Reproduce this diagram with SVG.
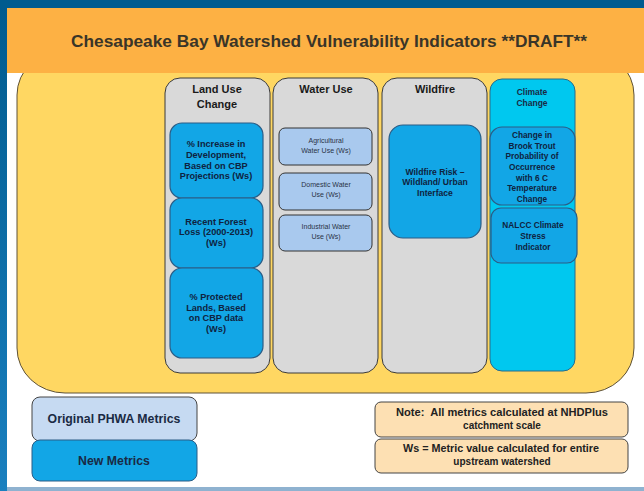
<svg xmlns="http://www.w3.org/2000/svg" width="644" height="491" viewBox="0 0 644 491">
<defs>
<linearGradient id="side" x1="0" y1="0" x2="0" y2="1">
<stop offset="0" stop-color="#005a8e"/>
<stop offset="1" stop-color="#1a80bf"/>
</linearGradient>
<style>
.col{fill:#d9d9d9;stroke:#3a3a3a;stroke-width:1}
.clim{fill:#00c8ef;stroke:#2a6a8a;stroke-width:1}
.new{fill:#12a6e6;stroke:#2b5d86;stroke-width:1.2}
.orig{fill:#a9c9ee;stroke:#333;stroke-width:1}
.note{fill:#fde0b3;stroke:#444;stroke-width:1}
text{font-family:"Liberation Sans",Arial,sans-serif;text-anchor:middle}
.hd{font-size:11px;font-weight:bold;fill:#1a1a1a}
.hs{font-size:8.5px;font-weight:bold;fill:#1a2a44}
.bt{font-size:9.2px;font-weight:bold;fill:#0f2340}
.bw{font-size:8.6px;font-weight:bold;fill:#0f2340}
.bc{font-size:8.3px;font-weight:bold;fill:#0f2340}
.wt{font-size:7px;fill:#2a3346}
.lg{font-size:12.3px;font-weight:bold;fill:#1a2a44}
.nt{font-size:10px;font-weight:bold;fill:#222}
</style>
</defs>
<rect x="0" y="0" width="644" height="491" fill="#ffffff"/>
<rect x="0" y="0" width="7" height="491" fill="url(#side)"/>
<rect x="0" y="0" width="644" height="8" fill="#005b8f"/>
<rect x="7" y="487" width="637" height="4" fill="#8fb2d0"/>
<g id="panel">
<rect x="17" y="50" width="617" height="343" rx="48" ry="45" fill="#ffd762" stroke="#5e5238" stroke-width="1"/>
</g>
<g id="header">
<rect x="7" y="8" width="637" height="65" fill="#fdb144"/>
<text x="329" y="47" font-size="17" font-weight="bold" fill="#3a3528" textLength="516" lengthAdjust="spacingAndGlyphs">Chesapeake Bay Watershed Vulnerability Indicators **DRAFT**</text>
</g>
<g id="land-use">
<rect class="col" x="165" y="78" width="105" height="295" rx="15"/>
<text class="hd" x="217" y="93">Land Use</text>
<text class="hd" x="217" y="108">Change</text>
</g>
<g id="water-use">
<rect class="col" x="273" y="78" width="105" height="295" rx="15"/>
<text class="hd" x="326" y="93">Water Use</text>
</g>
<g id="wildfire">
<rect class="col" x="382" y="78" width="105" height="295" rx="15"/>
<text class="hd" x="435" y="93">Wildfire</text>
</g>
<g id="climate">
<rect class="clim" x="490" y="79" width="85" height="292" rx="12"/>
<text class="hs" x="532" y="95">Climate</text>
<text class="hs" x="532" y="106">Change</text>
</g>
<g id="lu-dev">
<rect class="new" x="170" y="123" width="93" height="75" rx="12"/>
<text class="bt" x="216" y="147">% Increase in</text>
<text class="bt" x="216" y="158">Development,</text>
<text class="bt" x="216" y="169">Based on CBP</text>
<text class="bt" x="216" y="179">Projections (Ws)</text>
</g>
<g id="lu-forest">
<rect class="new" x="170" y="198" width="93" height="70" rx="12"/>
<text class="bt" x="216" y="225">Recent Forest</text>
<text class="bt" x="216" y="235">Loss (2000-2013)</text>
<text class="bt" x="216" y="246">(Ws)</text>
</g>
<g id="lu-protected">
<rect class="new" x="170" y="268" width="93" height="90" rx="12"/>
<text class="bt" x="216" y="300">% Protected</text>
<text class="bt" x="216" y="311">Lands, Based</text>
<text class="bt" x="216" y="321">on CBP data</text>
<text class="bt" x="216" y="332">(Ws)</text>
</g>
<g id="wu-ag">
<rect class="orig" x="279" y="128" width="93" height="37" rx="6"/>
<text class="wt" x="326" y="143">Agricultural</text>
<text class="wt" x="326" y="153">Water Use (Ws)</text>
</g>
<g id="wu-dom">
<rect class="orig" x="279" y="173" width="93" height="37" rx="6"/>
<text class="wt" x="326" y="187">Domestic Water</text>
<text class="wt" x="326" y="197">Use (Ws)</text>
</g>
<g id="wu-ind">
<rect class="orig" x="279" y="215" width="93" height="36" rx="6"/>
<text class="wt" x="326" y="229">Industrial Water</text>
<text class="wt" x="326" y="239">Use (Ws)</text>
</g>
<g id="wf-risk">
<rect class="new" x="389" y="125" width="92" height="113" rx="14"/>
<text class="bw" x="435" y="175">Wildfire Risk –</text>
<text class="bw" x="435" y="185">Wildland/ Urban</text>
<text class="bw" x="435" y="196">Interface</text>
</g>
<g id="cc-trout">
<rect class="new" x="490" y="127" width="85" height="78" rx="12"/>
<text class="bc" x="532" y="138">Change in</text>
<text class="bc" x="532" y="148.7">Brook Trout</text>
<text class="bc" x="532" y="159.4">Probability of</text>
<text class="bc" x="532" y="170">Occurrence</text>
<text class="bc" x="532" y="180.7">with 6 C</text>
<text class="bc" x="532" y="191.4">Temperature</text>
<text class="bc" x="532" y="202">Change</text>
</g>
<g id="cc-nalcc">
<rect class="new" x="491" y="208" width="86" height="55" rx="10"/>
<text class="bc" x="533" y="228">NALCC Climate</text>
<text class="bc" x="533" y="239">Stress</text>
<text class="bc" x="533" y="250">Indicator</text>
</g>
<g id="legend-original">
<rect x="32" y="397" width="165" height="44" rx="8" fill="#c6daf2" stroke="#444" stroke-width="1"/>
<text class="lg" x="114" y="423">Original PHWA Metrics</text>
</g>
<g id="legend-new">
<rect x="32" y="440" width="165" height="41" rx="8" fill="#12a6e6" stroke="#2b5d86" stroke-width="1"/>
<text class="lg" x="114" y="465">New Metrics</text>
</g>
<g id="note-scale">
<rect class="note" x="375" y="402" width="253" height="35" rx="6"/>
<text class="nt" x="502" y="416" xml:space="preserve" textLength="212" lengthAdjust="spacingAndGlyphs">Note:  All metrics calculated at NHDPlus</text>
<text class="nt" x="502" y="429">catchment scale</text>
</g>
<g id="note-ws">
<rect class="note" x="375" y="439" width="253" height="34" rx="6"/>
<text class="nt" x="501" y="452" textLength="196" lengthAdjust="spacingAndGlyphs">Ws = Metric value calculated for entire</text>
<text class="nt" x="502" y="465">upstream watershed</text>
</g>
<g id="connectors"></g>
</svg>
